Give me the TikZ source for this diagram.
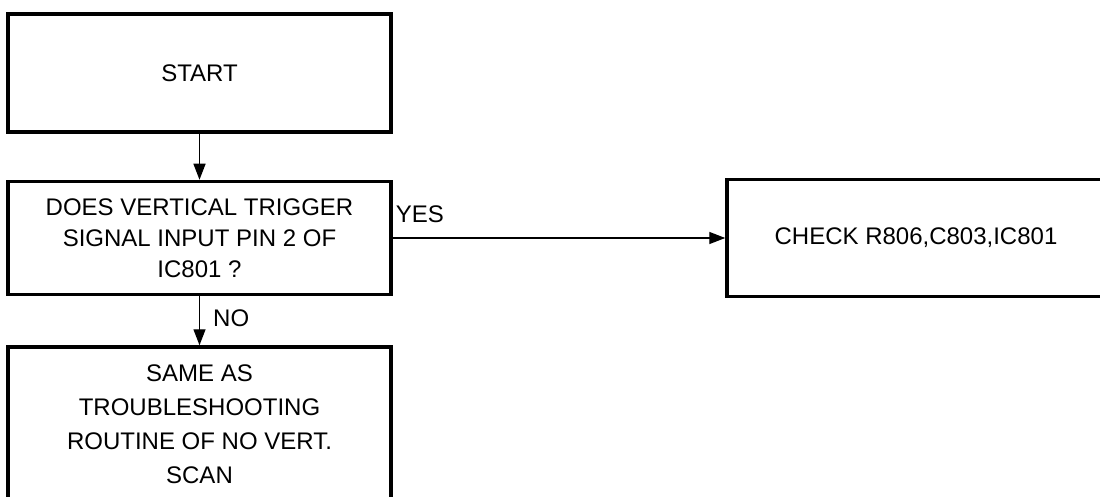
\documentclass[tikz,border=0pt]{standalone}
\usepackage{fontspec}
\setmainfont{Liberation Sans}
\usetikzlibrary{arrows.meta}
\begin{document}
\begin{tikzpicture}[x=1pt,y=-1pt,
  box/.style={draw, line width=3.5pt, rectangle, align=center, inner sep=0pt,
    font=\fontsize{24}{31}\selectfont},
  arr/.style={line width=1.4pt, -{Triangle[length=16pt,width=12pt]}},
  lbl/.style={font=\fontsize{24}{31}\selectfont, inner sep=0pt}]
\useasboundingbox (0,0) rectangle (1100,497);
\clip (0,0) rectangle (1100,497);
\node[box, minimum width=383pt, minimum height=118pt] (b1) at (199.5,73) {START};
\node[box, minimum width=383pt, minimum height=113pt] (b2) at (199.5,238)
  {DOES VERTICAL TRIGGER\\SIGNAL INPUT PIN 2 OF\\IC801 ?};
\node[box, minimum width=383pt, minimum height=154pt, font=\fontsize{24}{34}\selectfont] (b3) at (199.5,424)
  {SAME AS\\TROUBLESHOOTING\\ROUTINE OF NO VERT.\\SCAN};
\node[box, minimum width=378pt, minimum height=117pt] (b4) at (916,238)
  {CHECK R806,C803,IC801};
\draw[arr] (b1.south) -- (b2.north);
\draw[arr] (b2.south) -- node[lbl, anchor=west, xshift=13pt, yshift=3pt] {NO} (b3.north);
\draw[arr] (b2.east) -- (b4.west);
\node[lbl, anchor=west] (yes) at ([xshift=3pt,yshift=24pt]b2.east) {YES};
\end{tikzpicture}
\end{document}
